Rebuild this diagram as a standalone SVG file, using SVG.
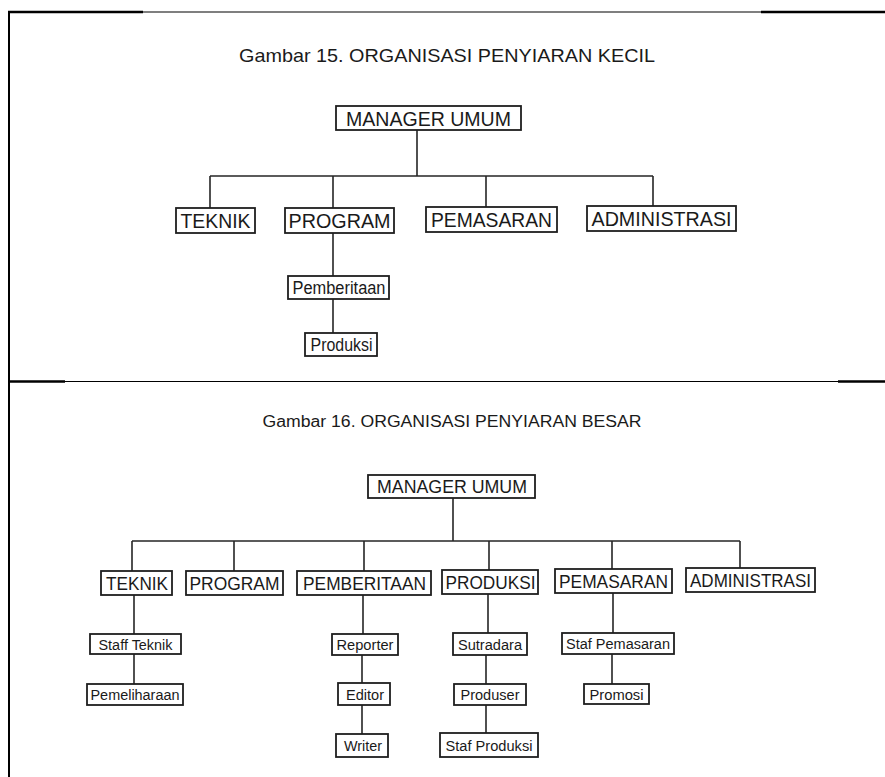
<svg xmlns="http://www.w3.org/2000/svg" width="885" height="777" viewBox="0 0 885 777">
<style>
  .bx { fill: #fff; stroke: #1e1e1e; stroke-width: 1.8; }
  .ln { stroke: #262626; stroke-width: 1.6; fill: none; }
  .fr { stroke: #000; fill: none; }
  text { font-family: "Liberation Sans", Arial, sans-serif; fill: #1a1a1a; text-anchor: middle; }
  .t1 { font-size: 21px; }
  .s1 { font-size: 17.5px; }
  .t2 { font-size: 18.5px; }
  .s2 { font-size: 15.5px; }
  .ttl1 { font-size: 18.5px; }
  .ttl2 { font-size: 16px; }
</style>
<rect width="885" height="777" fill="#fff"/>
<g id="frame">
  <line class="fr" x1="9" y1="12" x2="885" y2="12" stroke-width="1.2"/>
  <line class="fr" x1="8" y1="12" x2="143" y2="12" stroke-width="2.4"/>
  <line class="fr" x1="761" y1="12" x2="885" y2="12" stroke-width="2.4"/>
  <line class="fr" x1="9" y1="11" x2="9" y2="777" stroke-width="2"/>
  <line class="fr" x1="9" y1="381.5" x2="885" y2="381.5" stroke-width="1.2"/>
  <line class="fr" x1="9" y1="381.5" x2="65" y2="381.5" stroke-width="2.4"/>
  <line class="fr" x1="838" y1="381.5" x2="885" y2="381.5" stroke-width="2.4"/>
</g>
<text class="ttl1" x="447" y="62" textLength="416" lengthAdjust="spacingAndGlyphs">Gambar 15. ORGANISASI PENYIARAN KECIL</text>
<text class="ttl2" x="452" y="427" textLength="379" lengthAdjust="spacingAndGlyphs">Gambar 16. ORGANISASI PENYIARAN BESAR</text>
<g id="connectors">
  <path class="ln" d="M417 130V176M210 176H653M210 176V208M333 176V208M486 176V207M653 176V206M333 233V276M333 299V333"/>
  <path class="ln" d="M453 498V541M132 541H740M132 541V571M234 541V571M364 541V571M489 541V570M612 541V569M740 541V568"/>
  <path class="ln" d="M134 595V634M134 654V684M363 595V634M362 655V683M362 705V734M488 594V633M486 655V684M486 705V733M613 593V633M612 654V684"/>
</g>
<g id="k_manager"><rect class="bx" x="336" y="106" width="185" height="24"/><text class="t1" x="428.5" y="125.5" textLength="165" lengthAdjust="spacingAndGlyphs">MANAGER UMUM</text></g>
<g id="k_teknik"><rect class="bx" x="176" y="208" width="79" height="25"/><text class="t1" x="215.5" y="228" textLength="70" lengthAdjust="spacingAndGlyphs">TEKNIK</text></g>
<g id="k_program"><rect class="bx" x="285" y="208" width="109" height="25"/><text class="t1" x="339.5" y="228" textLength="102" lengthAdjust="spacingAndGlyphs">PROGRAM</text></g>
<g id="k_pemasaran"><rect class="bx" x="426" y="207" width="131" height="25"/><text class="t1" x="491.5" y="227" textLength="121" lengthAdjust="spacingAndGlyphs">PEMASARAN</text></g>
<g id="k_administrasi"><rect class="bx" x="587" y="206" width="149" height="25"/><text class="t1" x="661.5" y="226" textLength="140" lengthAdjust="spacingAndGlyphs">ADMINISTRASI</text></g>
<g id="k_pemberitaan"><rect class="bx" x="288" y="276" width="101" height="23"/><text class="s1" x="339" y="293.5" textLength="93" lengthAdjust="spacingAndGlyphs">Pemberitaan</text></g>
<g id="k_produksi"><rect class="bx" x="305" y="333" width="72" height="23"/><text class="s1" x="341.5" y="350.5" textLength="62" lengthAdjust="spacingAndGlyphs">Produksi</text></g>
<g id="b_manager"><rect class="bx" x="368" y="475" width="167" height="23"/><text class="t2" x="452" y="493" textLength="150" lengthAdjust="spacingAndGlyphs">MANAGER UMUM</text></g>
<g id="b_teknik"><rect class="bx" x="101" y="571" width="71" height="24"/><text class="t2" x="137" y="589.5" textLength="62" lengthAdjust="spacingAndGlyphs">TEKNIK</text></g>
<g id="b_program"><rect class="bx" x="186" y="571" width="97" height="24"/><text class="t2" x="234.5" y="589.5" textLength="90" lengthAdjust="spacingAndGlyphs">PROGRAM</text></g>
<g id="b_pemberitaan"><rect class="bx" x="297" y="571" width="134" height="24"/><text class="t2" x="364.5" y="589.5" textLength="123" lengthAdjust="spacingAndGlyphs">PEMBERITAAN</text></g>
<g id="b_produksi"><rect class="bx" x="442" y="570" width="96" height="24"/><text class="t2" x="490.5" y="588.5" textLength="90" lengthAdjust="spacingAndGlyphs">PRODUKSI</text></g>
<g id="b_pemasaran"><rect class="bx" x="555" y="569" width="117" height="24"/><text class="t2" x="613.5" y="587.5" textLength="109" lengthAdjust="spacingAndGlyphs">PEMASARAN</text></g>
<g id="b_administrasi"><rect class="bx" x="686" y="568" width="129" height="24"/><text class="t2" x="750.5" y="586.5" textLength="121" lengthAdjust="spacingAndGlyphs">ADMINISTRASI</text></g>
<g id="b_staff_teknik"><rect class="bx" x="90" y="634" width="91" height="20"/><text class="s2" x="135.5" y="649.5" textLength="74" lengthAdjust="spacingAndGlyphs">Staff Teknik</text></g>
<g id="b_pemeliharaan"><rect class="bx" x="87" y="684" width="96" height="21"/><text class="s2" x="135" y="700" textLength="89" lengthAdjust="spacingAndGlyphs">Pemeliharaan</text></g>
<g id="b_reporter"><rect class="bx" x="332" y="634" width="66" height="21"/><text class="s2" x="365" y="650" textLength="57" lengthAdjust="spacingAndGlyphs">Reporter</text></g>
<g id="b_editor"><rect class="bx" x="338" y="683" width="52" height="22"/><text class="s2" x="365" y="699.5" textLength="38" lengthAdjust="spacingAndGlyphs">Editor</text></g>
<g id="b_writer"><rect class="bx" x="336" y="734" width="52" height="23"/><text class="s2" x="363" y="751" textLength="38" lengthAdjust="spacingAndGlyphs">Writer</text></g>
<g id="b_sutradara"><rect class="bx" x="453" y="633" width="74" height="22"/><text class="s2" x="490" y="649.5" textLength="64" lengthAdjust="spacingAndGlyphs">Sutradara</text></g>
<g id="b_produser"><rect class="bx" x="454" y="684" width="72" height="21"/><text class="s2" x="490" y="700" textLength="59" lengthAdjust="spacingAndGlyphs">Produser</text></g>
<g id="b_staf_produksi"><rect class="bx" x="440" y="733" width="98" height="24"/><text class="s2" x="489" y="750.5" textLength="87" lengthAdjust="spacingAndGlyphs">Staf Produksi</text></g>
<g id="b_staf_pemasaran"><rect class="bx" x="562" y="633" width="112" height="21"/><text class="s2" x="618" y="649" textLength="104" lengthAdjust="spacingAndGlyphs">Staf Pemasaran</text></g>
<g id="b_promosi"><rect class="bx" x="584" y="684" width="65" height="20"/><text class="s2" x="616.5" y="699.5" textLength="54" lengthAdjust="spacingAndGlyphs">Promosi</text></g>
</svg>
